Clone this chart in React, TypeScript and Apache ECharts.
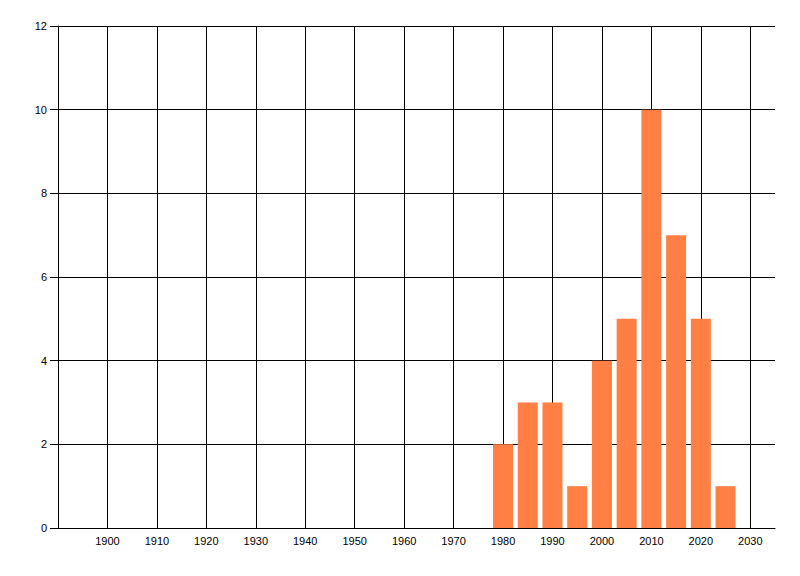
import React, { useEffect, useRef } from "react";
import * as echarts from "echarts";

const years = [1980, 1985, 1990, 1995, 2000, 2005, 2010, 2015, 2020, 2025];
const counts = [2, 3, 3, 1, 4, 5, 10, 7, 5, 1];
const xMin = 1890;
const xMax = 2035;
const xStep = 10;
const yMin = 0;
const yMax = 12;
const yStep = 2;

export default function App() {
  const ref = useRef<HTMLDivElement>(null);
  useEffect(() => {
    if (!ref.current) return;
    const chart = echarts.init(ref.current, null, { renderer: "svg" });
    const font = { fontFamily: "Liberation Sans, Arial, sans-serif", fontSize: 11, color: "#000" };
    chart.setOption({
      animation: false,
      backgroundColor: "#fff",
      grid: { left: 58, right: 25, top: 26, bottom: 48, containLabel: false },
      xAxis: {
        type: "value",
        min: xMin,
        max: xMax,
        interval: xStep,
        axisLine: { show: true, onZero: false, lineStyle: { color: "#000", width: 1 } },
        axisTick: { show: false },
        axisLabel: {
          ...font,
          margin: 7,
          showMinLabel: false,
          showMaxLabel: false,
          formatter: (v: number) => String(v),
        },
        splitLine: { show: true, showMinLine: true, showMaxLine: false, lineStyle: { color: "#000", width: 1 } },
      },
      yAxis: {
        type: "value",
        min: yMin,
        max: yMax,
        interval: yStep,
        axisLine: { show: true, lineStyle: { color: "#000", width: 1 } },
        axisTick: { show: true, length: 8, lineStyle: { color: "#000", width: 1 } },
        axisLabel: { ...font, margin: 11, formatter: (v: number) => String(v) },
        splitLine: { show: true, lineStyle: { color: "#000", width: 1 } },
      },
      series: [
        {
          type: "bar",
          barWidth: 20,
          itemStyle: { color: "#FF7F45" },
          data: years.map((y, i) => [y, counts[i]]),
          z: 5,
        },
      ],
    });
    return () => chart.dispose();
  }, []);
  return (
    <div
      ref={ref}
      style={{ position: "fixed", left: 0, top: 0, width: 800, height: 576, background: "#fff" }}
    />
  );
}
